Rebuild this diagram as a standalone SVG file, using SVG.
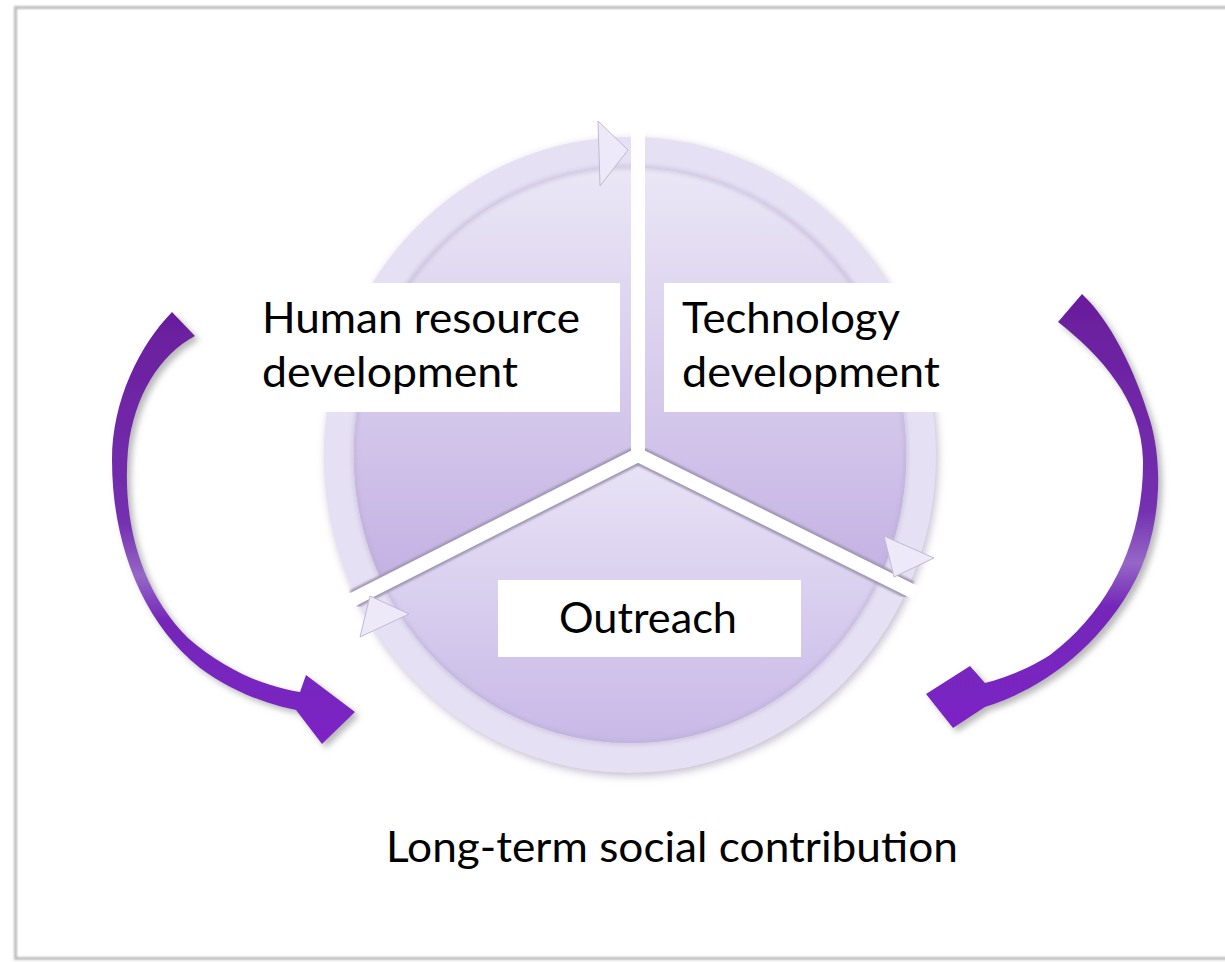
<svg xmlns="http://www.w3.org/2000/svg" width="1225" height="962" viewBox="0 0 1225 962">
<defs>
  <style>
    .lbl { font-family: Lato, "Liberation Sans", sans-serif; font-size: 43px; fill: #000000; }
    .box { fill: #ffffff; }
    .ring { fill: none; stroke: #e5e0f3; stroke-width: 30; }
    .gapShade { stroke: #a197b4; stroke-width: 19; stroke-linecap: butt; fill: none; }
    .gap { stroke: #ffffff; stroke-width: 14; stroke-linecap: butt; fill: none; }
    .rhead { fill: #ede9f8; stroke: #c2b9d4; stroke-width: 1; }
    .parrow { stroke: none; }
  </style>
  <linearGradient id="gTop" x1="0" y1="167" x2="0" y2="590" gradientUnits="userSpaceOnUse">
    <stop offset="0" stop-color="#ebe7f6"/>
    <stop offset="1" stop-color="#c3b0e3"/>
  </linearGradient>
  <linearGradient id="gBot" x1="0" y1="455" x2="0" y2="745" gradientUnits="userSpaceOnUse">
    <stop offset="0" stop-color="#e9e4f6"/>
    <stop offset="1" stop-color="#c8b8e7"/>
  </linearGradient>
  <linearGradient id="gPL" x1="0" y1="300" x2="0" y2="745" gradientUnits="userSpaceOnUse">
    <stop offset="0" stop-color="#6a1d9c"/>
    <stop offset="0.5" stop-color="#7430b0"/>
    <stop offset="0.62" stop-color="#9567c6"/>
    <stop offset="0.72" stop-color="#7426b8"/>
    <stop offset="1" stop-color="#7c24c6"/>
  </linearGradient>
  <linearGradient id="gPR" x1="0" y1="290" x2="0" y2="730" gradientUnits="userSpaceOnUse">
    <stop offset="0" stop-color="#6a1d9c"/>
    <stop offset="0.5" stop-color="#7430b0"/>
    <stop offset="0.62" stop-color="#9567c6"/>
    <stop offset="0.72" stop-color="#7426b8"/>
    <stop offset="1" stop-color="#7c24c6"/>
  </linearGradient>
  <filter id="blur1" x="-5%" y="-5%" width="110%" height="110%"><feGaussianBlur stdDeviation="1.2"/></filter>
  <filter id="blur2" x="-10%" y="-10%" width="120%" height="120%"><feGaussianBlur stdDeviation="2"/></filter>
  <filter id="blur4" x="-10%" y="-10%" width="120%" height="120%"><feGaussianBlur stdDeviation="4"/></filter>
  <filter id="pshadow" x="-30%" y="-10%" width="160%" height="130%">
    <feDropShadow dx="4" dy="4" stdDeviation="3" flood-color="#808080" flood-opacity="0.55"/>
  </filter>
</defs>

<rect x="0" y="0" width="1225" height="962" fill="#ffffff"/>

<g id="frame">
  <rect x="15.5" y="7.5" width="1220" height="951" fill="none" stroke="#bcbcbc" stroke-width="3" filter="url(#blur1)"/>
</g>

<g id="wheel">
  <ellipse cx="632" cy="458" rx="306" ry="318" fill="#aaa3ba" opacity="0.7" filter="url(#blur4)"/>
  <ellipse class="ring" cx="630" cy="455" rx="291" ry="303"/>
  <g id="sector-human">
    <path d="M638 455 L638 167 A276 288 0 0 0 383.4 584.2 Z" fill="url(#gTop)"/>
  </g>
  <g id="sector-technology">
    <path d="M638 455 L638 167 A276 288 0 0 1 880.6 575.8 Z" fill="url(#gTop)"/>
  </g>
  <g id="sector-outreach">
    <path d="M638 455 L880.6 575.8 A276 288 0 0 1 383.4 584.2 Z" fill="url(#gBot)"/>
  </g>
  <ellipse cx="630" cy="455" rx="276" ry="288" fill="none" stroke="#b2a6cb" stroke-width="3" opacity="0.6" filter="url(#blur2)"/>
  <g id="dividers">
    <line class="gapShade" x1="638" y1="455" x2="638" y2="140" filter="url(#blur1)"/>
    <line class="gapShade" x1="638" y1="455" x2="354" y2="599" filter="url(#blur1)"/>
    <line class="gapShade" x1="638" y1="455" x2="910" y2="590" filter="url(#blur1)"/>
    <line class="gap" x1="638" y1="455" x2="638" y2="130"/>
    <line class="gap" x1="638" y1="455" x2="348" y2="602"/>
    <line class="gap" x1="638" y1="455" x2="916" y2="593"/>
    <circle cx="638" cy="455" r="8" fill="#ffffff"/>
  </g>
  <g id="ring-arrowheads">
    <polygon class="rhead" points="598,121 628,150 600,186"/>
    <polygon class="rhead" points="934,558 894,577 884,536"/>
    <polygon class="rhead" points="409,614 370,596 360,637"/>
  </g>
</g>

<g id="node-human">
  <rect class="box" x="248" y="283" width="372" height="129"/>
  <text class="lbl" x="262" y="333" textLength="318" lengthAdjust="spacingAndGlyphs">Human resource</text>
  <text class="lbl" x="262" y="387" textLength="256" lengthAdjust="spacingAndGlyphs">development</text>
</g>

<g id="node-technology">
  <rect class="box" x="664" y="283" width="291" height="129"/>
  <text class="lbl" x="682" y="333" textLength="218" lengthAdjust="spacingAndGlyphs">Technology</text>
  <text class="lbl" x="682" y="387" textLength="258" lengthAdjust="spacingAndGlyphs">development</text>
</g>

<g id="node-outreach">
  <rect class="box" x="498" y="580" width="303" height="77"/>
  <text class="lbl" x="559" y="633" textLength="178" lengthAdjust="spacingAndGlyphs">Outreach</text>
</g>

<g id="connectors">
  <path id="arrow-left" class="parrow" fill="url(#gPL)" filter="url(#pshadow)"
    d="M172 312 C140 345 112 400 112 460 C112 540 140 620 200 668 C230 690 262 703 296 710 L322 744 L355 712 L306 675 L300 692 C262 686 222 668 188 638 C140 590 122 520 128 450 C134 395 160 355 195 336 Z"/>
  <path id="arrow-right" class="parrow" fill="url(#gPR)" filter="url(#pshadow)"
    d="M1058 322 C1100 355 1142 400 1143 460 C1144 540 1110 610 1050 655 C1030 668 1005 678 985 683 L970 666 L926 694 L953 728 L985 707 C1040 690 1095 650 1130 590 C1160 540 1165 470 1150 420 C1135 370 1110 320 1082 294 Z"/>
</g>

<g id="caption">
  <text class="lbl" x="386" y="862" textLength="572" lengthAdjust="spacingAndGlyphs">Long-term social contribution</text>
</g>
</svg>
